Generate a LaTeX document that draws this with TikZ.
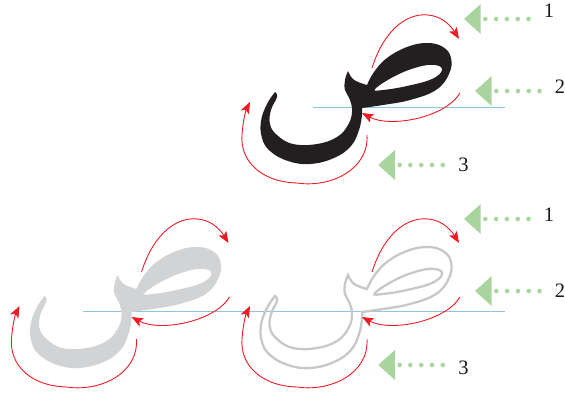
\documentclass[tikz,border=0pt]{standalone}
\usepackage{fontspec}
\setmainfont{Liberation Serif}
\usetikzlibrary{arrows.meta}
\definecolor{redarrow}{RGB}{237,28,36}
\definecolor{greenmark}{RGB}{169,212,158}
\definecolor{blueline}{RGB}{140,198,228}
\definecolor{letterblack}{RGB}{35,31,32}
\definecolor{lettergrey}{RGB}{209,211,212}
\definecolor{outlinegrey}{RGB}{200,200,200}
\tikzset{
  strokearrow/.style={draw=redarrow, line width=0.9pt, -{Stealth[length=11.5pt,width=9pt,inset=2.5pt]}},
  baseline/.style={draw=blueline, line width=1pt},
  numlabel/.style={inner sep=0pt, font=\fontsize{20.5}{24}\selectfont, text=black!90},
  sadletter/.pic={
    \path[pic actions, even odd rule]
      plot[smooth, tension=0.7] coordinates {(275,92) (267,104) (261,121) (262,138) (270,151) (288,161) (310,164) (334,158) (351,146) (359,130) (362,115) (362,108)}
      -- plot[smooth, tension=0.7] coordinates {(362,108) (383,105) (410,100) (436,90) (449,74) (451,58) (443,47) (427,43) (407,47) (387,58) (374,72) (367,85)}
      -- plot[smooth, tension=0.7] coordinates {(367,85) (358,82) (352,78) (348,71)}
      -- plot[smooth, tension=0.7] coordinates {(348,71) (345,80) (345,90) (350,100) (352,112) (348,125) (337,137) (317,144) (293,144) (277,135) (270,124) (271,110) (277,97) (275,92)}
      -- cycle
      plot[smooth cycle, tension=0.7] coordinates {(375,89) (395,76) (418,67) (435,65) (442,70) (432,79) (407,86) (383,90)};
  },
  sadarrows/.pic={
    \draw[strokearrow] (372,68) .. controls (392,5) and (438,5) .. (459,39);
    \draw[strokearrow] (460,93) .. controls (445,118) and (390,128) .. (362,113);
    \draw[strokearrow] (367,135) .. controls (369,170) and (330,188) .. (297,183)
       .. controls (260,182) and (240,160) .. (242,135)
       .. controls (243,120) and (246,110) .. (250,102);
  },
  pointer/.pic={
    \fill[greenmark] (0,0) -- (16.7,-15) -- (16.7,15) -- cycle;
    \foreach \k in {0,...,4} \fill[greenmark] ({21.3+10.8*\k},0) circle[radius=2.3pt];
  }
}
\begin{document}
\begin{tikzpicture}[x=1pt,y=-1pt]
\useasboundingbox (0,0) rectangle (565,396);
% baselines
\draw[baseline] (313,107.5) -- (505,107.5);
\draw[baseline] (83,311.5) -- (505,311.5);
% letters
\pic[fill=letterblack] at (0,0) {sadletter};
\pic[fill=lettergrey] at (-230.5,204) {sadletter};
\pic[draw=outlinegrey, line width=2.3pt] at (0,204) {sadletter};
% arrows
\pic at (0,0) {sadarrows};
\pic at (-230.5,204) {sadarrows};
\pic at (0,204) {sadarrows};
% pointers
\pic at (464,19) {pointer};
\pic at (475,91) {pointer};
\pic at (378.3,165) {pointer};
\pic at (464,219) {pointer};
\pic at (475,291) {pointer};
\pic at (378.3,365) {pointer};
% numbers
\node[numlabel] (t1) at (549,11) {1};
\node[numlabel] (t2) at (560,87) {2};
\node[numlabel] (t3) at (463.5,164.5) {3};
\node[numlabel] (b1) at (549,214.5) {1};
\node[numlabel] (b2) at (560,290.5) {2};
\node[numlabel] (b3) at (463.5,368) {3};
\end{tikzpicture}
\end{document}
